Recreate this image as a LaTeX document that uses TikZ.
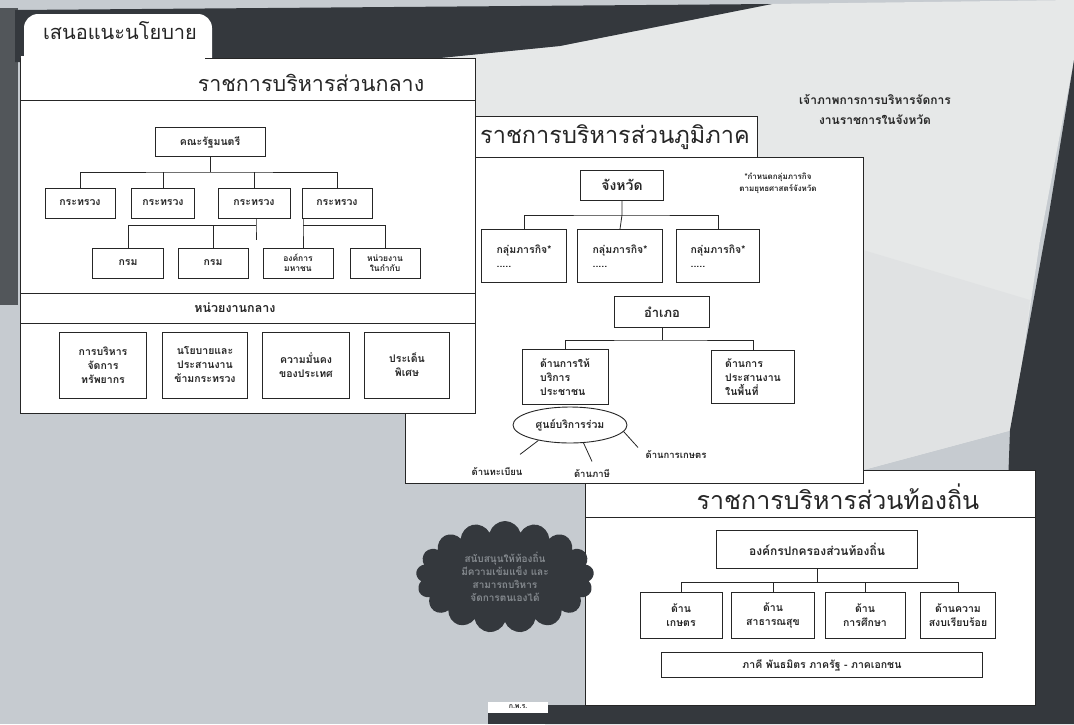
\documentclass[tikz,border=0pt]{standalone}
\usepackage{fontspec}
\setmainfont{Loma}[Script=Thai]
\usetikzlibrary{positioning}
\usetikzlibrary{shapes.geometric}
\usetikzlibrary{shapes.symbols}
\definecolor{ink}{HTML}{262626}
\definecolor{paper}{HTML}{C6CBD0}
\definecolor{murk}{HTML}{34383D}
\definecolor{pale}{HTML}{E6E8E8}
\tikzset{box/.style = {draw=ink, fill=white, line width=0.9, align=center, inner sep=1,
                       text=ink, font=\bfseries\fontsize{10.5}{14}\selectfont}}
\tikzset{head/.style = {text=ink, font=\fontsize{21.5}{24}\selectfont}}
\tikzset{tag/.style = {text=ink, align=center, font=\bfseries\fontsize{9.5}{12}\selectfont}}
\tikzset{wire/.style = {draw=ink, line width=0.8}}

\begin{document}
\begin{tikzpicture}[x=1pt, y=-1pt]
      \useasboundingbox (0,0) rectangle (1074,724);
      % scanned page
      \fill[paper] (0,0) rectangle (1074,724);
      \fill[pale] (400,62) -- (560,46) -- (772,4) -- (1074,0) -- (1074,60) -- (1040,240)
                  -- (1012,430) -- (863,470) -- (863,483) -- (475,483) -- (475,62) -- cycle;
      \fill[pale!80!paper] (863,250) -- (1030,300) -- (1012,430) -- (863,470) -- cycle;
      \fill[murk!85] (0,8) rectangle (18,305);
      \fill[murk] (15,10) -- (772,4) -- (560,46) -- (400,62) -- (15,62) -- cycle;
      \fill[murk] (1074,60) -- (1048,220) -- (1010,430) -- (1000,705) -- (545,705)
                   -- (545,724) -- (1074,724) -- cycle;

      % ราชการบริหารส่วนท้องถิ่น
      \draw[wire, fill=white] (585,470) rectangle (1035,705);
      \node[head, font=\fontsize{25}{28}\selectfont] (titL) at (838,497) {ราชการบริหารส่วนท้องถิ่น};
      \draw[wire] (585,517) -- (1035,517);
      \node[box, minimum width=201, minimum height=38, font=\bfseries\fontsize{12}{14}\selectfont]
            (org) at (817,549) {องค์กรปกครองส่วนท้องถิ่น};
      \node[box, minimum width=82, minimum height=46] (l1) at (681,615) {ด้าน\\เกษตร};
      \node[box, minimum width=83, minimum height=46] (l2) at (773,615) {ด้าน\\สาธารณสุข};
      \node[box, minimum width=80, minimum height=46] (l3) at (865,615) {ด้าน\\การศึกษา};
      \node[box, minimum width=75, minimum height=46] (l4) at (958,615) {ด้านความ\\สงบเรียบร้อย};
      \node[box, minimum width=321, minimum height=25] (part) at (822,665)
            {ภาคี พันธมิตร ภาครัฐ - ภาคเอกชน};
      \coordinate (busL) at (817,582);
      \draw[wire] (org) -- (busL);
      \draw[wire] (l1.north) |- (busL) -| (l4.north);
      \draw[wire] (l2.north) -- (l2.north |- busL);
      \draw[wire] (l3.north) -- (l3.north |- busL);

      % ราชการบริหารส่วนภูมิภาค
      \draw[wire, fill=white] (405,116) -- (757,116) -- (757,157) -- (863,157)
                               -- (863,483) -- (405,483) -- cycle;
      \draw[wire] (405,157) -- (757,157);
      \node[head, font=\fontsize{23.5}{27}\selectfont] (titP) at (615,137) {ราชการบริหารส่วนภูมิภาค};
      \node[tag, font=\bfseries\fontsize{12}{20}\selectfont] (host) at (875,110)
            {เจ้าภาพการการบริหารจัดการ\\งานราชการในจังหวัด};
      \node[box, minimum width=83, minimum height=30, font=\bfseries\fontsize{14}{16}\selectfont]
            (prov) at (622,185) {จังหวัด};
      \node[tag, font=\bfseries\fontsize{8}{12}\selectfont] (note) at (778,183)
            {*กำหนดกลุ่มภารกิจ\\ตามยุทธศาสตร์จังหวัด};
      \node[box, minimum width=85, minimum height=53, align=left] (g1) at (524,256) {กลุ่มภารกิจ*\\.....};
      \node[box, minimum width=85, minimum height=53, align=left] (g2) at (620,256) {กลุ่มภารกิจ*\\.....};
      \node[box, minimum width=83, minimum height=53, align=left] (g3) at (718,256) {กลุ่มภารกิจ*\\.....};
      \coordinate (busP) at (622,215);
      \draw[wire] (prov) -- (busP) -- (g2.north);
      \draw[wire] (g1.north) |- (busP) -| (g3.north);
      \node[box, minimum width=95, minimum height=31, font=\bfseries\fontsize{13}{15}\selectfont]
            (amp) at (662,312) {อำเภอ};
      \node[box, minimum width=86, minimum height=55, align=left] (s1) at (565,377)
            {ด้านการให้\\บริการ\\ประชาชน};
      \node[box, minimum width=83, minimum height=53, align=left] (s2) at (753,377)
            {ด้านการ\\ประสานงาน\\ในพื้นที่};
      \coordinate (busA) at (662,340);
      \draw[wire] (amp) -- (busA);
      \draw[wire] (s1.north) |- (busA) -| (s2.north);
      \node[box, ellipse, minimum width=114, minimum height=36, inner sep=0] (one) at (570,425)
            {ศูนย์บริการร่วม};
      \node[tag] (reg) at (497,471) {ด้านทะเบียน};
      \node[tag] (tax) at (592,473) {ด้านภาษี};
      \node[tag] (agr) at (676,455) {ด้านการเกษตร};
      \draw[wire] (one.206) -- ([xshift=23, yshift=9]reg.north);
      \draw[wire] (one.-53) -- ([yshift=4]tax.north);
      \draw[wire] (one.-7) -- ([xshift=-38]agr.north);

      % ราชการบริหารส่วนกลาง
      \fill[white, rounded corners=14] (24,14) rectangle (212,72);
      \node[head, font=\fontsize{20}{24}\selectfont] (advice) at (120,31) {เสนอแนะนโยบาย};
      \draw[wire, fill=white] (20,58) rectangle (475,413);
      \fill[white] (20.8,56) rectangle (205,62);
      \node[head] (titC) at (311,83) {ราชการบริหารส่วนกลาง};
      \draw[wire] (20,100) -- (475,100);
      \node[box, minimum width=110, minimum height=29] (cab) at (210,142) {คณะรัฐมนตรี};
      \node[box, minimum width=70, minimum height=30] (m1) at (80,203) {กระทรวง};
      \node[box, minimum width=63, minimum height=30] (m2) at (163,203) {กระทรวง};
      \node[box, minimum width=72, minimum height=30] (m3) at (254,203) {กระทรวง};
      \node[box, minimum width=70, minimum height=30] (m4) at (337,203) {กระทรวง};
      \coordinate (busC) at (210,172);
      \draw[wire] (cab) -- (busC);
      \draw[wire] (m1.north) |- (busC) -| (m4.north);
      \draw[wire] (m2.north) -- (m2.north |- busC);
      \draw[wire] (m3.north) -- (m3.north |- busC);
      \node[box, minimum width=71, minimum height=30] (d1) at (128,263) {กรม};
      \node[box, minimum width=70, minimum height=30] (d2) at (213,263) {กรม};
      \node[box, minimum width=70, minimum height=30, font=\bfseries\fontsize{8.5}{10}\selectfont]
            (pub) at (298,263) {องค์การ\\มหาชน};
      \node[box, minimum width=70, minimum height=30, font=\bfseries\fontsize{8.5}{10}\selectfont]
            (agn) at (385,263) {หน่วยงาน\\ในกำกับ};
      \coordinate (b3) at (256,225);
      \coordinate (b4) at (303,225);
      \draw[wire] (m3.south -| b3) -- (b3) -- ++(0,15);
      \draw[wire] (d1.north) |- (b3);
      \draw[wire] (d2.north) -- (d2.north |- b3);
      \draw[wire] (b4 |- m4.south) -- (b4) -- (b4 |- pub.north);
      \draw[wire] (b4) -| (agn.north);
      \draw[wire] (20,293) -- (475,293);
      \draw[wire] (20,323) -- (475,323);
      \node[tag, font=\bfseries\fontsize{12.5}{14}\selectfont] (hub) at (235,308) {หน่วยงานกลาง};
      \node[box, minimum width=87, minimum height=66] (r1) at (103,365) {การบริหาร\\จัดการ\\ทรัพยากร};
      \node[box, minimum width=85, minimum height=66] (r2) at (205,365) {นโยบายและ\\ประสานงาน\\ข้ามกระทรวง};
      \node[box, minimum width=87, minimum height=66] (r3) at (306,365) {ความมั่นคง\\ของประเทศ};
      \node[box, minimum width=85, minimum height=66] (r4) at (407,365) {ประเด็น\\พิเศษ};

      % cloud
      \node[cloud, cloud puffs=17, aspect=1.7, fill=murk, minimum width=178, minimum height=112,
            inner sep=0, align=center, text=paper!55!murk,
            font=\bfseries\fontsize{10}{13}\selectfont] (puff) at (505,577)
            {สนับสนุนให้ท้องถิ่น\\มีความเข้มแข็ง และ\\สามารถบริหาร\\จัดการตนเองได้};

      % ก.พ.ร.
      \fill[murk] (488,713) rectangle (548,724);
      \node[fill=white, minimum width=60, minimum height=11, inner sep=0, text=ink,
            font=\bfseries\fontsize{7}{8}\selectfont] (opdc) at (518,707) {ก.พ.ร.};
    \end{tikzpicture}
\end{document}
